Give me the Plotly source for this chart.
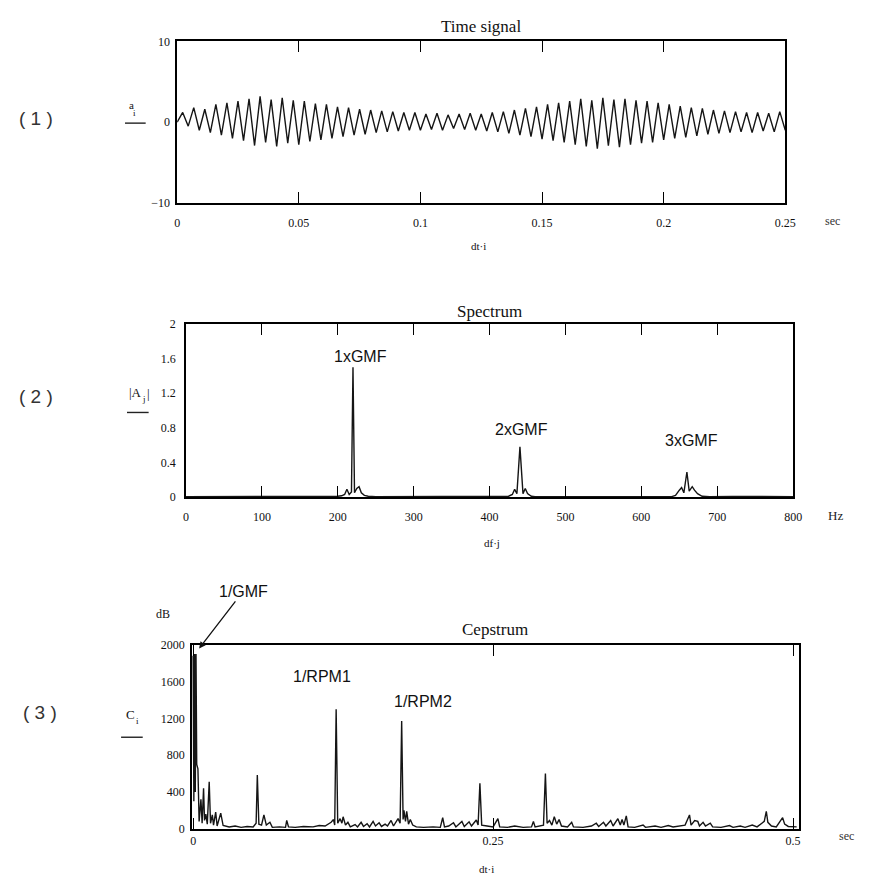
import plotly.graph_objects as go

# ---- (1) time signal: peak / trough value of each gear-mesh cycle ----
sig_peaks = [1.2, 1.8, 1.6, 2.2, 2.4, 2.6, 2.9, 3.2, 2.8, 3.0, 2.7, 2.6, 2.3, 2.2,
             1.9, 1.8, 1.6, 1.5, 1.4, 1.3, 1.2, 1.2, 1.0, 1.1, 0.9, 1.0, 1.1, 1.0,
             1.2, 1.3, 1.5, 1.7, 1.9, 2.2, 2.4, 2.6, 2.9, 2.7, 3.0, 2.8, 2.9, 2.7,
             2.6, 2.4, 2.2, 2.0, 1.8, 1.7, 1.5, 1.4, 1.3, 1.2, 1.2, 1.1, 1.3]
sig_troughs = [-0.5, -1.0, -1.3, -1.6, -2.0, -2.3, -2.9, -2.5, -3.0, -2.6, -2.8, -2.4,
               -2.2, -2.0, -1.8, -1.6, -1.5, -1.3, -1.2, -1.1, -1.0, -1.0, -0.9, -1.0,
               -0.8, -0.9, -1.0, -1.1, -1.2, -1.4, -1.6, -1.8, -2.1, -2.3, -2.5, -2.8,
               -3.0, -3.3, -2.9, -3.1, -2.8, -2.6, -2.5, -2.2, -2.0, -1.9, -1.7, -1.5,
               -1.4, -1.3, -1.2, -1.3, -1.1, -1.2, -1.0]
t_end = 0.25

# ---- (2) spectrum ----
spec_f = [0, 5, 20, 60, 100, 150, 190, 200, 205, 209, 212, 215, 218, 220, 222, 225,
          228, 231, 235, 240, 250, 300, 350, 400, 420, 425, 430, 433, 436, 440, 444,
          447, 450, 455, 460, 480, 550, 600, 640, 645, 650, 653, 656, 660, 663, 667,
          670, 674, 680, 690, 720, 760, 800]
spec_a = [0.005, 0.005, 0.004, 0.004, 0.005, 0.004, 0.005, 0.01, 0.015, 0.03, 0.09,
          0.03, 0.06, 1.5, 0.05, 0.1, 0.12, 0.05, 0.02, 0.01, 0.005, 0.004, 0.004,
          0.005, 0.006, 0.01, 0.03, 0.09, 0.04, 0.58, 0.04, 0.1, 0.04, 0.01, 0.006,
          0.005, 0.004, 0.005, 0.006, 0.02, 0.08, 0.11, 0.05, 0.29, 0.07, 0.12, 0.08,
          0.04, 0.01, 0.006, 0.008, 0.005, 0.005]

# ---- (3) cepstrum ----
ceps_q = [0.000, 0.0006, 0.0012, 0.0018, 0.0024, 0.003, 0.004, 0.005, 0.0065, 0.0075,
          0.0087, 0.0095, 0.0106,
          0.0118, 0.0134, 0.0145, 0.016, 0.017, 0.0188, 0.020, 0.023, 0.025, 0.030,
          0.035, 0.040, 0.045, 0.050, 0.0525, 0.0535, 0.0548, 0.057, 0.059, 0.061,
          0.064, 0.066, 0.072, 0.077, 0.078, 0.0795, 0.085, 0.092, 0.100, 0.105,
          0.110, 0.115, 0.117, 0.118, 0.1192, 0.1205, 0.1225, 0.124, 0.125, 0.127,
          0.129, 0.131, 0.135, 0.137, 0.140, 0.142, 0.145, 0.147, 0.150, 0.152,
          0.155, 0.157, 0.160, 0.162, 0.165, 0.167, 0.1708, 0.1725, 0.1738, 0.175,
          0.1757, 0.177, 0.178, 0.1795, 0.181, 0.183, 0.186, 0.192, 0.200, 0.206,
          0.208, 0.2095, 0.213, 0.217, 0.219, 0.224, 0.226, 0.230, 0.232, 0.236,
          0.2375, 0.239, 0.2405, 0.245, 0.250, 0.254, 0.2555, 0.262, 0.268, 0.275,
          0.282, 0.2836, 0.285, 0.292, 0.2936, 0.295, 0.297, 0.299, 0.301, 0.303,
          0.305, 0.307, 0.312, 0.3155, 0.317, 0.325, 0.332, 0.336, 0.338, 0.342,
          0.344, 0.348, 0.350, 0.354, 0.356, 0.3575, 0.359, 0.361, 0.3625, 0.368,
          0.375, 0.377, 0.385, 0.390, 0.396, 0.400, 0.406, 0.410, 0.4137, 0.415,
          0.418, 0.4206, 0.422, 0.425, 0.427, 0.431, 0.433, 0.440, 0.447, 0.450,
          0.456, 0.460, 0.466, 0.470, 0.474, 0.476, 0.4777, 0.479, 0.482, 0.486,
          0.4913, 0.493, 0.496, 0.500, 0.503]
ceps_c = [1880, 300, 1900, 400, 1900, 700, 650, 80, 320, 60,
          440, 90, 160,
          50, 510, 60, 150, 40, 180, 30, 170, 35, 20,
          30, 15, 25, 20, 60, 584, 50, 40, 150, 40,
          70, 15, 20, 15, 90, 20, 15, 25, 20, 35,
          30, 70, 100, 40, 1300, 60, 110, 60, 130, 40,
          70, 20, 45, 20, 70, 25, 55, 20, 80, 30,
          65, 25, 50, 30, 90, 30, 110, 60, 1170, 100,
          200, 80, 190, 50, 100, 40, 20, 15, 20, 15,
          120, 20, 30, 65, 20, 80, 25, 75, 30, 95,
          40, 495, 40, 30, 20, 110, 20, 15, 30, 15,
          20, 80, 20, 40, 600, 60, 90, 40, 130, 50,
          100, 30, 20, 70, 20, 15, 30, 60, 25, 70,
          30, 90, 30, 110, 40, 100, 40, 140, 20, 15,
          40, 15, 30, 15, 35, 20, 30, 40, 150, 40,
          90, 80, 30, 70, 30, 60, 20, 15, 35, 15,
          30, 15, 40, 20, 60, 80, 190, 70, 30, 20,
          120, 50, 25, 20, 20]

# sampled signal a_i at t = dt*i
sig = [0.0]
for p, q in zip(sig_peaks, sig_troughs):
    sig += [p, q]
dt = t_end / (len(sig) - 1)
t = [dt * i for i in range(len(sig))]

W, H = 875, 883
def dom_x(a, b):
    return [a / W, b / W]
def dom_y(top, bot):
    return [1 - bot / H, 1 - top / H]

LINE = '#151515'
SERIF = 'Liberation Serif'
SANS = 'Liberation Sans'

fig = go.Figure()
fig.add_trace(go.Scatter(x=t, y=sig, mode='lines', line=dict(color=LINE, width=1.4),
                         xaxis='x', yaxis='y'))
fig.add_trace(go.Scatter(x=spec_f, y=spec_a, mode='lines', line=dict(color=LINE, width=1.4),
                         xaxis='x2', yaxis='y2'))
fig.add_trace(go.Scatter(x=ceps_q, y=ceps_c, mode='lines', line=dict(color=LINE, width=1.4),
                         xaxis='x3', yaxis='y3'))

tickfont = dict(family=SERIF, size=12, color='#111')
def xax(domain, rng, vals, text, anchor, standoff):
    return dict(domain=domain, range=rng, tickvals=vals, ticktext=text, anchor=anchor,
                showline=True, mirror='ticks', linecolor='black', linewidth=1.7,
                ticks='inside', ticklen=11, tickwidth=1.4, tickcolor='black',
                showgrid=False, zeroline=False, tickfont=tickfont,
                ticklabelstandoff=standoff)
def yax(domain, rng, vals, text, anchor, standoff):
    return dict(domain=domain, range=rng, tickvals=vals, ticktext=text, anchor=anchor,
                showline=True, mirror=True, linecolor='black', linewidth=1.7,
                ticks='', showgrid=False, zeroline=False, tickfont=tickfont,
                ticklabelstandoff=standoff)

fig.update_layout(
    width=W, height=H, margin=dict(l=0, r=0, t=0, b=0),
    paper_bgcolor='white', plot_bgcolor='white', showlegend=False,
    xaxis=xax(dom_x(177, 795), [0, 0.25], [0, 0.05, 0.1, 0.15, 0.2, 0.25],
              ['0', '0.05', '0.1', '0.15', '0.2', '0.25'], 'y', 8),
    yaxis=yax(dom_y(35, 199), [-10, 10], [-10, 0, 10], ['\u221210', '0', '10'], 'x', 3),
    xaxis2=xax(dom_x(186, 803), [0, 800], list(range(0, 801, 100)),
               [str(v) for v in range(0, 801, 100)], 'y2', 8),
    yaxis2=yax(dom_y(322, 498), [0, 2], [0, 0.4, 0.8, 1.2, 1.6, 2],
               ['0', '0.4', '0.8', '1.2', '1.6', '2'], 'x2', 6),
    xaxis3=xax(dom_x(192, 809), [-0.001, 0.505], [0, 0.25, 0.5], ['0', '0.25', '0.5'], 'y3', 0),
    yaxis3=yax(dom_y(648, 835), [0, 2000], [0, 400, 800, 1200, 1600, 2000],
               ['0', '400', '800', '1200', '1600', '2000'], 'x3', 3),
)

def note(x, y, text, size, family=SANS, color='#111'):
    fig.add_annotation(xref='paper', yref='paper', x=x / W, y=1 - y / H, text=text,
                       showarrow=False, xanchor='center', yanchor='middle',
                       font=dict(family=family, size=size, color=color))

# titles
note(486, 20, 'Time signal', 17, SERIF)
note(494, 309, 'Spectrum', 17, SERIF)
note(500, 633, 'Cepstrum', 17, SERIF)
# panel numbers
note(34, 113, '( 1 )', 19, SANS, '#333')
note(34, 396, '( 2 )', 19, SANS, '#333')
note(38, 717, '( 3 )', 19, SANS, '#333')
# variable names (letter + subscript) with the underline bars
note(131, 100, 'a', 11, SERIF)
note(134, 108, 'i', 9, SERIF)
note(135, 392, '|A', 13, SERIF)
note(143, 398, 'j', 9, SERIF)
note(148, 393, '|', 13, SERIF)
note(130, 719, 'C', 13, SERIF)
note(137, 725, 'i', 9, SERIF)
for x0, x1, y in [(124, 145, 118), (126, 148, 412), (120, 142, 742)]:
    fig.add_shape(type='line', xref='paper', yref='paper', x0=x0 / W, x1=x1 / W,
                  y0=1 - y / H, y1=1 - y / H, line=dict(color='#222', width=1.4))
# axis expressions and units
note(483, 243, 'dt\u00b7i', 11, SERIF)
note(497, 545, 'df\u00b7j', 11, SERIF)
note(491, 876, 'dt\u00b7i', 11, SERIF)
note(843, 217, 'sec', 12, SERIF, '#333')
note(846, 517, 'Hz', 13, SERIF, '#222')
note(857, 842, 'sec', 12, SERIF, '#333')
note(163, 617, 'dB', 12, SERIF)
# peak labels
note(363, 355, '1xGMF', 16)
note(527, 429, '2xGMF', 16)
note(700, 440, '3xGMF', 16)
note(324, 680, '1/RPM1', 16)
note(427, 706, '1/RPM2', 16)
fig.add_annotation(xref='x3', yref='y3', x=0.005, y=1960, text='1/GMF', showarrow=True,
                   ax=44, ay=-57, arrowhead=2, arrowsize=1, arrowwidth=1.3, arrowcolor='#111',
                   font=dict(family=SANS, size=16, color='#111'))

fig.write_html("out.html", config={'displayModeBar': False},
               post_script="document.body.style.margin='0';document.body.style.overflow='hidden';")
